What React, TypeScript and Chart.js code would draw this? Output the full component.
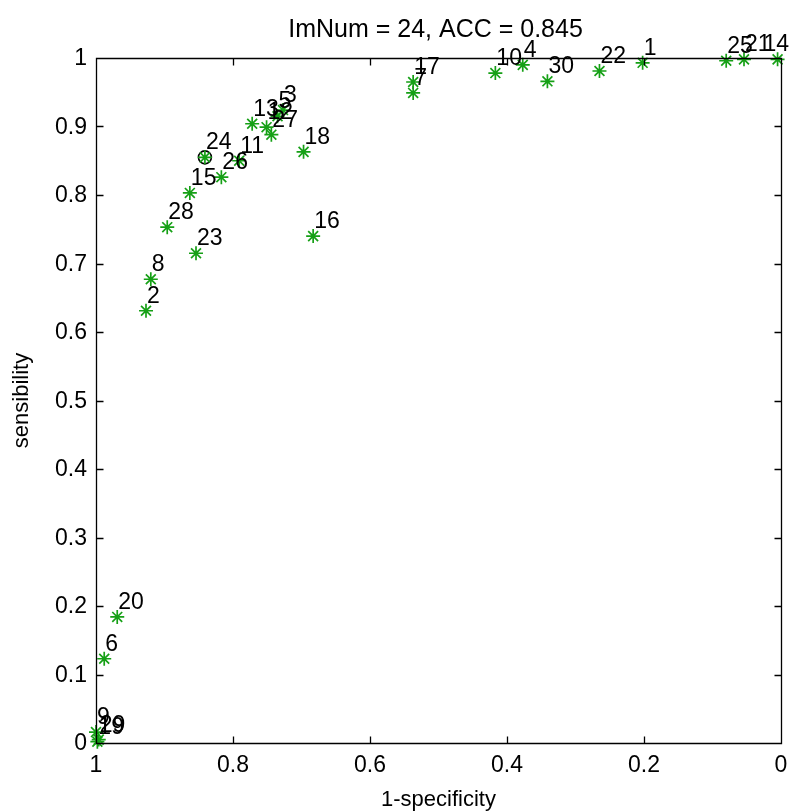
import React, { useEffect, useRef } from 'react';
import { Chart, registerables } from 'chart.js';

Chart.register(...registerables);

// ---- data ----
const pointLabels = [
  '1', '2', '3', '4', '5', '6', '7', '8', '9', '10',
  '11', '12', '13', '14', '15', '16', '17', '18', '19', '20',
  '21', '22', '23', '24', '25', '26', '27', '28', '29', '30',
];
const oneMinusSpecificity = [
  0.202, 0.927, 0.727, 0.377, 0.735, 0.988, 0.537, 0.920, 1.000, 0.417,
  0.791, 0.751, 0.772, 0.005, 0.863, 0.683, 0.537, 0.697, 0.998, 0.969,
  0.054, 0.265, 0.854, 0.841, 0.080, 0.817, 0.744, 0.896, 0.996, 0.341,
];
const sensibility = [
  0.993, 0.631, 0.924, 0.990, 0.915, 0.123, 0.949, 0.677, 0.016, 0.978,
  0.850, 0.899, 0.904, 0.998, 0.803, 0.740, 0.965, 0.863, 0.002, 0.184,
  0.998, 0.981, 0.715, 0.855, 0.996, 0.826, 0.888, 0.753, 0.005, 0.966,
];
const selectedLabel = '24';
const titleText = 'ImNum = 24, ACC = 0.845';
const xAxisTitle = '1-specificity';
const yAxisTitle = 'sensibility';
const xTickValues = [0, 0.2, 0.4, 0.6, 0.8, 1];
const yTickValues = [0, 0.1, 0.2, 0.3, 0.4, 0.5, 0.6, 0.7, 0.8, 0.9, 1];

const FONT = '"Liberation Sans", Arial, Helvetica, sans-serif';
const GREEN = '#16a016';

function fmtTick(v: number) {
  return String(Math.round(v * 10) / 10);
}

function drawText(
  ctx: CanvasRenderingContext2D, txt: string, x: number, y: number, size: number,
  align: CanvasTextAlign, baseline: CanvasTextBaseline, rotate = 0,
) {
  ctx.save();
  ctx.font = `${size}px ${FONT}`;
  ctx.fillStyle = '#000';
  ctx.textAlign = align;
  ctx.textBaseline = baseline;
  ctx.translate(x, y);
  if (rotate) ctx.rotate(rotate);
  ctx.fillText(txt, 0, 0);
  ctx.restore();
}

const matlabAxesPlugin = {
  id: 'matlabAxes',
  afterDatasetsDraw(chart: any) {
    const { ctx, chartArea: a, scales } = chart;
    const xs = scales.x;
    const ys = scales.y;
    const L = Math.round(a.left) + 0.5;
    const R = Math.round(a.right) + 0.5;
    const T = Math.round(a.top) + 0.5;
    const B = Math.round(a.bottom) + 0.5;
    const tickLen = 7;

    ctx.save();
    ctx.strokeStyle = '#000';
    ctx.lineWidth = 1.3;
    ctx.beginPath();
    ctx.rect(L, T, R - L, B - T);
    // inward ticks on all four sides
    xTickValues.forEach((v) => {
      const px = Math.round(xs.getPixelForValue(v)) + 0.5;
      ctx.moveTo(px, B); ctx.lineTo(px, B - tickLen);
      ctx.moveTo(px, T); ctx.lineTo(px, T + tickLen);
    });
    yTickValues.forEach((v) => {
      const py = Math.round(ys.getPixelForValue(v)) + 0.5;
      ctx.moveTo(L, py); ctx.lineTo(L + tickLen, py);
      ctx.moveTo(R, py); ctx.lineTo(R - tickLen, py);
    });
    ctx.stroke();
    ctx.restore();

    // tick labels
    xTickValues.forEach((v) => {
      drawText(ctx, fmtTick(v), xs.getPixelForValue(v), a.bottom + 29, 23, 'center', 'alphabetic');
    });
    yTickValues.forEach((v) => {
      drawText(ctx, fmtTick(v), a.left - 9, ys.getPixelForValue(v) + 1, 23, 'right', 'middle');
    });

    // point labels
    const w = chart.width;
    ctx.save();
    ctx.font = `23px ${FONT}`;
    pointLabels.forEach((lab, i) => {
      const px = xs.getPixelForValue(oneMinusSpecificity[i]);
      const py = ys.getPixelForValue(sensibility[i]);
      let lx = px + 1;
      const tw = ctx.measureText(lab).width;
      if (lx + tw > w - 14) lx = w - 14 - tw;
      drawText(ctx, lab, lx, py - 8, 23, 'left', 'alphabetic');
    });
    ctx.restore();

    // title and axis titles
    const cx = (a.left + a.right) / 2;
    drawText(ctx, titleText, cx - 3, 37, 25, 'center', 'alphabetic');
    drawText(ctx, xAxisTitle, cx, 806, 22, 'center', 'alphabetic');
    drawText(ctx, yAxisTitle, 22, (a.top + a.bottom) / 2, 22, 'center', 'middle', -Math.PI / 2);
  },
};

export default function App() {
  const canvasRef = useRef<HTMLCanvasElement | null>(null);

  useEffect(() => {
    const canvas = canvasRef.current;
    if (!canvas) return;
    const points = oneMinusSpecificity.map((x, i) => ({ x, y: sensibility[i] }));
    const selIdx = pointLabels.indexOf(selectedLabel);
    const selected = [{ x: oneMinusSpecificity[selIdx], y: sensibility[selIdx] }];

    const chart = new Chart(canvas, {
      type: 'scatter',
      data: {
        datasets: [
          {
            label: 'ROC points',
            data: points,
            pointStyle: 'star',
            pointRadius: 7,
            pointBorderWidth: 1.7,
            pointBorderColor: GREEN,
            pointBackgroundColor: GREEN,
            showLine: false,
            clip: false,
          } as any,
          {
            label: 'selected',
            data: selected,
            pointStyle: 'circle',
            pointRadius: 6.5,
            pointBorderWidth: 1.6,
            pointBorderColor: '#000',
            pointBackgroundColor: 'rgba(0,0,0,0)',
            showLine: false,
            clip: false,
          } as any,
        ],
      },
      options: {
        animation: false,
        responsive: false,
        devicePixelRatio: 1,
        layout: { padding: { top: 58, right: 22, left: 0, bottom: 0 } },
        plugins: {
          legend: { display: false },
          tooltip: { enabled: false },
          title: { display: false },
        },
        scales: {
          x: {
            type: 'linear',
            reverse: true,
            min: 0,
            max: 1,
            ticks: { display: false, stepSize: 0.2 },
            grid: { display: false, drawTicks: false },
            border: { display: false },
            afterFit: (s: any) => { s.height = 69; },
          },
          y: {
            type: 'linear',
            min: 0,
            max: 1,
            ticks: { display: false, stepSize: 0.1 },
            grid: { display: false, drawTicks: false },
            border: { display: false },
            afterFit: (s: any) => { s.width = 96; },
          },
        },
      },
      plugins: [matlabAxesPlugin],
    });
    return () => chart.destroy();
  }, []);

  return (
    <div style={{ position: 'fixed', left: 0, top: 0, width: 803, height: 812, background: '#fff' }}>
      <canvas ref={canvasRef} width={803} height={812} style={{ display: 'block', width: 803, height: 812 }} />
    </div>
  );
}
